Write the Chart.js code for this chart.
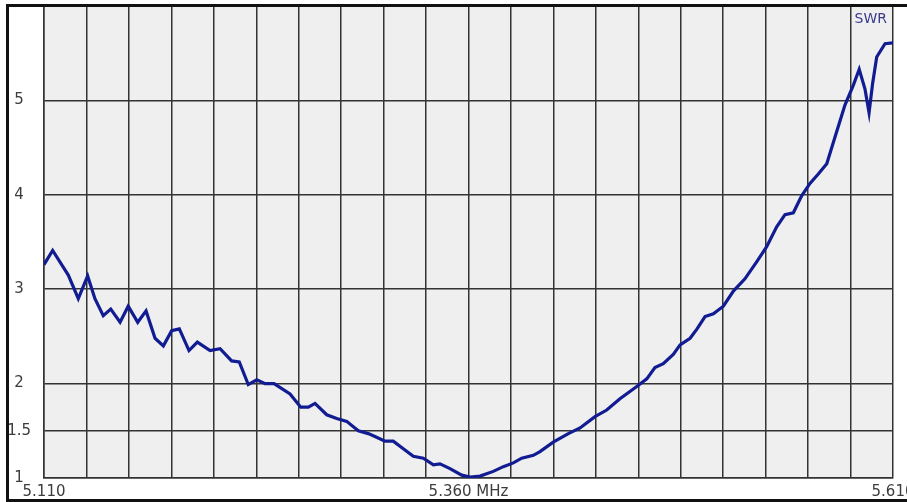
<!DOCTYPE html>
<html>
<head>
<meta charset="utf-8">
<script src="https://cdn.jsdelivr.net/npm/chart.js@4/dist/chart.umd.min.js"></script>
<style>
  html, body { margin: 0; padding: 0; background: #ffffff; overflow: hidden; }
  #wrap { position: relative; width: 907px; height: 502px; overflow: hidden; }
  #c { position: absolute; left: 0; top: 0; }
  #frame { position: absolute; left: 6px; top: 4px; width: 930px; height: 498px;
           box-sizing: border-box; border: 3px solid #111111; border-right: none; pointer-events: none; }
</style>
</head>
<body>
<div id="wrap">
  <canvas id="c" width="907" height="502"></canvas>
  <div id="frame"></div>
</div>
<script>
// ---- data ----
const seriesName = 'SWR';
const freqMHz = [
  5.1100, 5.1151, 5.1243, 5.1302, 5.1357, 5.1400, 5.1449, 5.1493, 5.1548, 5.1596,
  5.1652, 5.1701, 5.1754, 5.1803, 5.1852, 5.1897, 5.1954, 5.2003, 5.2078, 5.2137,
  5.2205, 5.2250, 5.2303, 5.2353, 5.2402, 5.2455, 5.2549, 5.2612, 5.2657, 5.2696,
  5.2765, 5.2824, 5.2883, 5.2951, 5.3010, 5.3049, 5.3108, 5.3157, 5.3216, 5.3275,
  5.3334, 5.3393, 5.3432, 5.3491, 5.3560, 5.3609, 5.3668, 5.3746, 5.3805, 5.3864,
  5.3913, 5.3982, 5.4021, 5.4099, 5.4188, 5.4257, 5.4345, 5.4414, 5.4492, 5.4591,
  5.4650, 5.4698, 5.4747, 5.4806, 5.4846, 5.4905, 5.4946, 5.4993, 5.5042, 5.5101,
  5.5160, 5.5228, 5.5297, 5.5356, 5.5415, 5.5464, 5.5513, 5.5562, 5.5611, 5.5660,
  5.5710, 5.5758, 5.5817, 5.5866, 5.5901, 5.5935, 5.5959, 5.5980, 5.6004, 5.6053,
  5.6100
];
const swr = [
  3.26, 3.41, 3.15, 2.90, 3.14, 2.90, 2.72, 2.79, 2.65, 2.82,
  2.65, 2.77, 2.48, 2.40, 2.56, 2.58, 2.35, 2.44, 2.35, 2.37,
  2.24, 2.23, 1.99, 2.04, 2.00, 2.00, 1.89, 1.75, 1.75, 1.79,
  1.67, 1.63, 1.60, 1.50, 1.47, 1.44, 1.39, 1.39, 1.31, 1.23,
  1.21, 1.14, 1.15, 1.10, 1.03, 1.01, 1.02, 1.07, 1.12, 1.16,
  1.21, 1.24, 1.28, 1.38, 1.47, 1.53, 1.65, 1.72, 1.84, 1.97,
  2.05, 2.17, 2.21, 2.31, 2.41, 2.48, 2.58, 2.71, 2.74, 2.82,
  2.98, 3.11, 3.29, 3.45, 3.66, 3.79, 3.81, 3.99, 4.12, 4.22,
  4.33, 4.61, 4.95, 5.16, 5.33, 5.12, 4.87, 5.18, 5.46, 5.60,
  5.61
];
// x grid: 5.110 .. 5.610 every 0.025 MHz ; only three labelled
const xGridStart = 5.110, xGridStep = 0.025, xGridCount = 20;
const xLabelIndex = [0, 10, 20];
const xLabelText = ['5.110', '5.360 MHz', '5.610'];
// y grid and labels
const yTicks  = [1, 1.5, 2, 3, 4, 5, 6];
const yLabels = ['1', '1.5', '2', '3', '4', '5', ''];

const xGrid = [];
for (let i = 0; i <= xGridCount; i++) xGrid.push(Math.round((xGridStart + i * xGridStep) * 1000) / 1000);

const fontFam = '"DejaVu Sans", Verdana, sans-serif';

const plotBg = {
  id: 'plotBg',
  beforeDraw(chart) {
    const {ctx, chartArea: a} = chart;
    ctx.save();
    ctx.fillStyle = '#efefef';
    ctx.fillRect(a.left, a.top, a.right - a.left, a.bottom - a.top);
    ctx.restore();
  }
};
const seriesTag = {
  id: 'seriesTag',
  afterDraw(chart) {
    const {ctx, chartArea: a} = chart;
    ctx.save();
    ctx.font = '14px ' + fontFam;
    ctx.fillStyle = '#3a3a8c';
    ctx.textAlign = 'right';
    ctx.textBaseline = 'middle';
    ctx.fillText(chart.data.datasets[0].label, a.right - 6, 19);
    ctx.restore();
  }
};

const gridColor = '#333333';
const tickFont = { family: fontFam, size: 15 };

new Chart(document.getElementById('c'), {
  type: 'line',
  data: {
    datasets: [{
      label: seriesName,
      data: freqMHz.map((f, i) => ({x: f, y: swr[i]})),
      borderColor: '#121c92',
      borderWidth: 3.2,
      pointRadius: 0,
      tension: 0,
      fill: false
    }]
  },
  options: {
    responsive: false,
    devicePixelRatio: 1,
    animation: false,
    layout: { padding: { top: 6, right: 14, left: 0, bottom: 0 } },
    plugins: { legend: { display: false }, tooltip: { enabled: false }, title: { display: false } },
    scales: {
      x: {
        type: 'linear',
        min: xGrid[0], max: xGrid[xGrid.length - 1],
        afterBuildTicks(s) { s.ticks = xGrid.map(v => ({value: v})); },
        afterFit(s) { s.height = 24; s.paddingLeft = 0; s.paddingRight = 0; },
        grid: { color: gridColor, lineWidth: 1.5, drawTicks: false },
        border: { color: gridColor, width: 1.5 },
        ticks: {
          autoSkip: false, maxRotation: 0, minRotation: 0, padding: 5,
          color: '#3c3c3c', font: tickFont,
          callback(v, i) { const k = xLabelIndex.indexOf(i); return k >= 0 ? xLabelText[k] : ''; }
        }
      },
      y: {
        type: 'linear',
        min: yTicks[0], max: yTicks[yTicks.length - 1],
        afterBuildTicks(s) { s.ticks = yTicks.map(v => ({value: v})); },
        afterFit(s) { s.width = 44; s.paddingTop = 0; s.paddingBottom = 0; },
        grid: { color: gridColor, lineWidth: 1.5, drawTicks: false },
        border: { color: gridColor, width: 1.5 },
        ticks: {
          autoSkip: false, padding: 13, crossAlign: 'center',
          color: '#3c3c3c', font: tickFont,
          callback(v, i) { return yLabels[i]; }
        }
      }
    }
  },
  plugins: [plotBg, seriesTag]
});
</script>
</body>
</html>
